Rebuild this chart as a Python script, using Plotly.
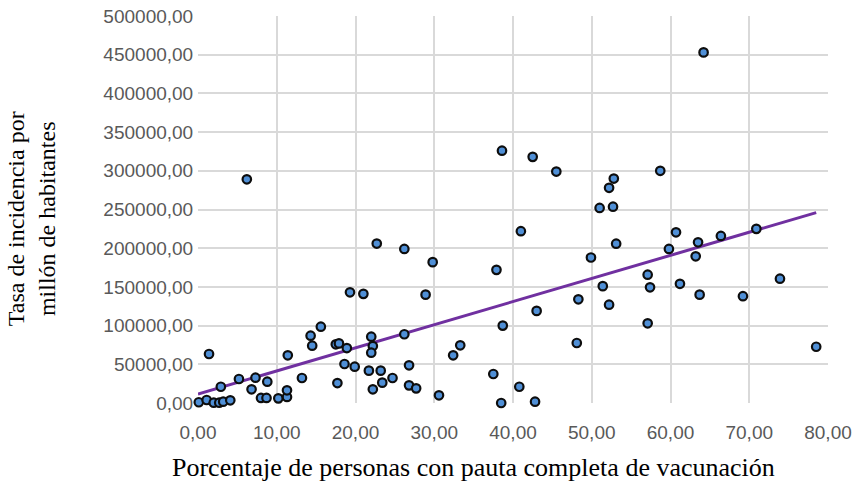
import plotly.graph_objects as go

# Porcentaje de personas con pauta completa de vacunación
vacunacion = [0.1, 1.1, 2.0, 2.7, 3.2, 4.1, 1.4, 2.9, 5.2, 6.2, 6.8, 7.3, 8.0, 8.7, 8.8,
              10.2, 11.3, 11.3, 11.4, 13.2, 14.3, 14.5, 15.6, 17.5, 17.9, 17.7, 18.6, 18.9,
              19.3, 19.9, 21.0, 21.7, 22.0, 22.2, 22.0, 22.2, 22.7, 23.2, 23.4, 24.7, 26.2,
              26.2, 26.8, 26.8, 27.7, 28.9, 29.8, 30.6, 32.4, 33.3, 37.5, 37.9, 38.5, 38.6,
              38.7, 40.8, 41.0, 42.5, 42.8, 43.0, 45.5, 48.1, 48.3, 49.9, 51.0, 51.4, 52.2,
              52.2, 52.7, 52.8, 53.1, 57.1, 57.1, 57.4, 58.7, 59.8, 60.7, 61.2, 63.2, 63.5,
              63.7, 64.2, 66.4, 69.2, 70.9, 73.9, 78.5]

# Tasa de incidencia por millón de habitantes
incidencia = [1000, 3900, 400, 400, 1700, 3500, 63300, 21000, 31000, 289000, 17700, 32700,
              6500, 6500, 27500, 6000, 7800, 16400, 61600, 32300, 87000, 74000, 98600, 75800,
              77000, 25800, 50400, 71000, 143000, 46900, 141000, 41800, 85700, 73600, 65000,
              17700, 206000, 41800, 26300, 32300, 199000, 88800, 48700, 22800, 18900, 140000,
              182000, 9900, 61600, 74500, 37500, 172000, 0, 326000, 100000, 21000, 222000,
              318000, 1700, 119000, 299000, 77500, 134000, 188000, 252000, 151000, 127000,
              278000, 253600, 290000, 205800, 103000, 165800, 149500, 300000, 199000, 220500,
              154000, 189500, 207600, 140000, 453000, 215800, 138000, 225000, 160600, 72700]

# Linear trend line (endpoints)
tendencia_x = [0.0, 78.5]
tendencia_y = [11600, 246000]

x_ticks = [0, 10, 20, 30, 40, 50, 60, 70, 80]
y_ticks = [0, 50000, 100000, 150000, 200000, 250000, 300000, 350000, 400000, 450000, 500000]

fig = go.Figure()
fig.add_trace(go.Scatter(
    x=tendencia_x, y=tendencia_y, mode="lines",
    line=dict(color="#7030A0", width=3), showlegend=False, hoverinfo="skip"))
fig.add_trace(go.Scatter(
    x=vacunacion, y=incidencia, mode="markers", cliponaxis=False,
    marker=dict(size=8.5, color="#4F8FD6", line=dict(color="#0D0D0D", width=2.2)),
    showlegend=False))

tick_font = dict(family="Liberation Sans, Arial, sans-serif", size=19, color="#595959")

fig.update_layout(
    width=852, height=485,
    margin=dict(l=198, r=24, t=16, b=82),
    paper_bgcolor="white", plot_bgcolor="white",
    separators=",.",
    xaxis=dict(range=[0, 80], tickvals=x_ticks, tickformat=".2f",
               showgrid=True, gridcolor="#D9D9D9", gridwidth=1.5,
               zeroline=False, showline=False, automargin=False,
               ticks="outside", ticklen=0, ticklabelstandoff=12,
               tickfont=tick_font),
    yaxis=dict(range=[0, 500000], tickvals=y_ticks, tickformat=".2f",
               showgrid=True, gridcolor="#D9D9D9", gridwidth=1.5,
               zeroline=False, showline=False, automargin=False,
               ticks="outside", ticklen=0, ticklabelstandoff=0,
               tickfont=tick_font),
    annotations=[
        dict(text="Porcentaje de personas con pauta completa de vacunación",
             xref="paper", yref="paper", x=0.438, y=-0.125, xanchor="center", yanchor="top",
             showarrow=False,
             font=dict(family="Liberation Serif, Times New Roman, serif", size=26, color="black")),
        dict(text="Tasa de incidencia por<br>millón de habitantes",
             xref="paper", yref="paper", x=-0.265, y=0.475, xanchor="center", yanchor="middle",
             textangle=-90, showarrow=False,
             font=dict(family="Liberation Serif, Times New Roman, serif", size=24, color="black")),
    ],
)

fig.write_html("out.html", config={"displayModeBar": False},
               post_script="document.body.style.margin='0';document.body.style.overflow='hidden';")
